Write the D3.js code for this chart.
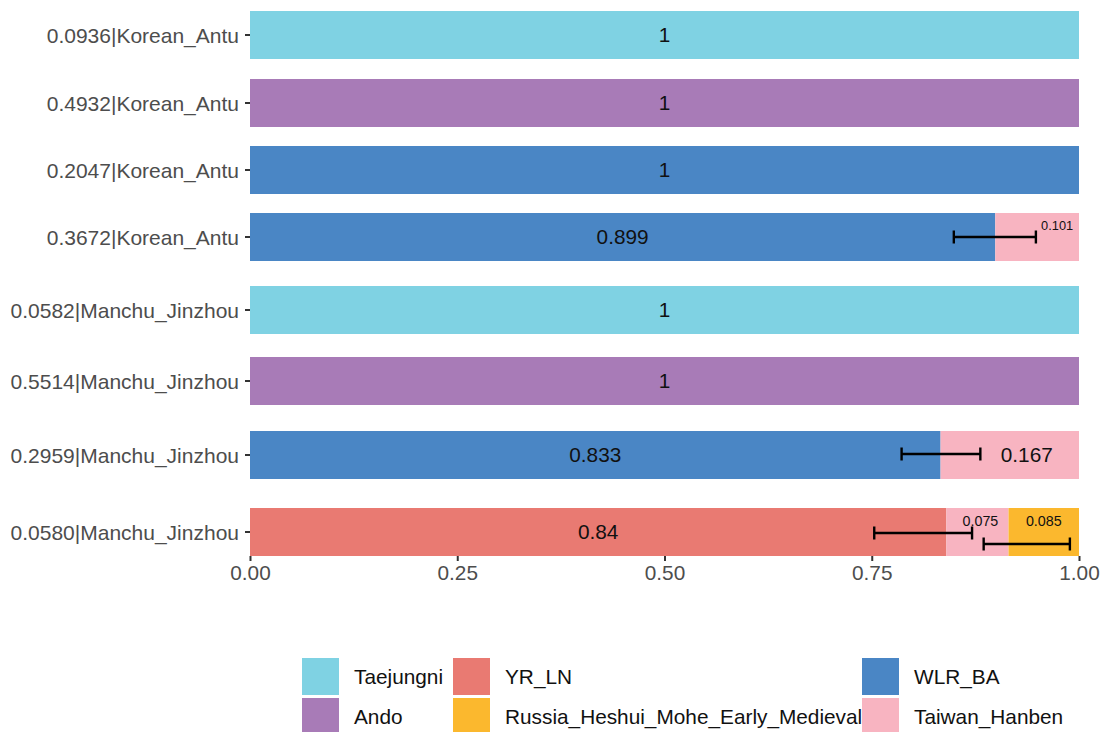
<!DOCTYPE html>
<html>
<head>
<meta charset="utf-8">
<script src="https://cdn.jsdelivr.net/npm/d3@7"></script>
<style>
  html, body { margin: 0; padding: 0; background: #fff; }
  svg { display: block; font-family: "Liberation Sans", Arial, Helvetica, sans-serif; }
</style>
</head>
<body>
<svg id="chart" width="1101" height="732"></svg>
<script>
// Samples (top to bottom) and the ancestry sources used in the model fits
const samples = [
  "0.0936|Korean_Antu",
  "0.4932|Korean_Antu",
  "0.2047|Korean_Antu",
  "0.3672|Korean_Antu",
  "0.0582|Manchu_Jinzhou",
  "0.5514|Manchu_Jinzhou",
  "0.2959|Manchu_Jinzhou",
  "0.0580|Manchu_Jinzhou"
];

// Legend order (filled column by column, two rows)
const legendSources = ["Taejungni", "Ando", "YR_LN", "Russia_Heshui_Mohe_Early_Medieval", "WLR_BA", "Taiwan_Hanben"];
// Stacking order from left to right
const stackSources = ["Taejungni", "Ando", "WLR_BA", "YR_LN", "Taiwan_Hanben", "Russia_Heshui_Mohe_Early_Medieval"];

// Admixture proportions per source, one value per sample
const taejungni = [1, 0, 0, 0, 1, 0, 0, 0];
const ando      = [0, 1, 0, 0, 0, 1, 0, 0];
const wlrBA     = [0, 0, 1, 0.899, 0, 0, 0.833, 0];
const yrLN      = [0, 0, 0, 0, 0, 0, 0, 0.84];
const taiwan    = [0, 0, 0, 0.101, 0, 0, 0.167, 0.075];
const russia    = [0, 0, 0, 0, 0, 0, 0, 0.085];

// Standard-error bars (sample index, lower and upper bound)
const errSample = [3, 6, 7, 7];
const errLow    = [0.849, 0.786, 0.753, 0.885];
const errHigh   = [0.948, 0.881, 0.871, 0.989];

const xTicks = [0, 0.25, 0.5, 0.75, 1];

const colors = {
  "Taejungni": "#7FD2E3",
  "Ando": "#A87BB7",
  "YR_LN": "#E97A72",
  "Russia_Heshui_Mohe_Early_Medieval": "#FBB82E",
  "WLR_BA": "#4A86C5",
  "Taiwan_Hanben": "#F8B4C1"
};

const seriesBySource = {
  "Taejungni": taejungni, "Ando": ando, "WLR_BA": wlrBA,
  "YR_LN": yrLN, "Taiwan_Hanben": taiwan, "Russia_Heshui_Mohe_Early_Medieval": russia
};

// ---- layout ----
const svg = d3.select("#chart");
const plotLeft = 250, plotRight = 1079;
const barH = 48;
const firstTop = 11;
// vertical gaps between consecutive bars (panels are spaced unevenly)
const rowGaps = [0, 20, 19, 19, 25, 23, 26, 29];
const rowTop = [];
rowGaps.forEach((g, i) => rowTop.push(i === 0 ? firstTop : rowTop[i - 1] + barH + g));
const axisY = rowTop[rowTop.length - 1] + barH;

const x = d3.scaleLinear().domain([0, 1]).range([plotLeft, plotRight]);
const yTop = d3.scaleOrdinal().domain(samples).range(rowTop);
const yMid = s => yTop(s) + barH / 2;

// table for the stack layout
const table = samples.map((s, i) => {
  const row = { sample: s };
  stackSources.forEach(k => row[k] = seriesBySource[k][i]);
  return row;
});
const stacked = d3.stack().keys(stackSources)(table);

// bars
const g = svg.append("g");
stacked.forEach(layer => {
  g.selectAll(null)
    .data(layer.filter(d => d[1] - d[0] > 0))
    .join("rect")
    .attr("x", d => x(d[0]))
    .attr("y", d => yTop(d.data.sample))
    .attr("width", d => x(d[1]) - x(d[0]))
    .attr("height", barH)
    .attr("fill", colors[layer.key]);
});

// segment labels; small segments get a smaller font and a nudge
const labelStyle = {
  "3|Taiwan_Hanben": { size: 12.8, dx: 20, dy: -12 },
  "6|Taiwan_Hanben": { size: 20.8, dx: 17, dy: 0 },
  "7|Taiwan_Hanben": { size: 14.3, dx: 3, dy: -11 },
  "7|Russia_Heshui_Mohe_Early_Medieval": { size: 14.3, dx: 0, dy: -11 }
};
const labels = [];
stacked.forEach(layer => {
  layer.forEach((d, i) => {
    const v = d[1] - d[0];
    if (v > 0) {
      const st = labelStyle[i + "|" + layer.key] || { size: 20.8, dx: 0, dy: 0 };
      labels.push({ v, cx: x((d[0] + d[1]) / 2) + st.dx, cy: yMid(samples[i]) + st.dy, size: st.size });
    }
  });
});
g.selectAll("text.seg")
  .data(labels)
  .join("text")
  .attr("class", "seg")
  .attr("x", d => d.cx)
  .attr("y", d => d.cy)
  .attr("dy", "0.36em")
  .attr("text-anchor", "middle")
  .attr("font-size", d => d.size)
  .attr("fill", "#111")
  .text(d => d3.format("")(+d.v.toFixed(3)));

// error bars
const errOffset = [0, -1, 1, 12];
const capH = 13;
const eb = g.selectAll("g.err")
  .data(errSample.map((s, i) => ({ s, lo: errLow[i], hi: errHigh[i], y: yMid(samples[s]) + errOffset[i] })))
  .join("g").attr("class", "err")
  .attr("stroke", "#000").attr("stroke-width", 2.4);
eb.append("line").attr("x1", d => x(d.lo)).attr("x2", d => x(d.hi)).attr("y1", d => d.y).attr("y2", d => d.y);
eb.append("line").attr("x1", d => x(d.lo)).attr("x2", d => x(d.lo)).attr("y1", d => d.y - capH / 2).attr("y2", d => d.y + capH / 2);
eb.append("line").attr("x1", d => x(d.hi)).attr("x2", d => x(d.hi)).attr("y1", d => d.y - capH / 2).attr("y2", d => d.y + capH / 2);

// x axis
const xAxis = svg.append("g").attr("transform", `translate(0,${axisY})`)
  .call(d3.axisBottom(x).tickValues(xTicks).tickFormat(d3.format(".2f")).tickSize(5).tickPadding(4));
xAxis.select(".domain").remove();
xAxis.selectAll("line").attr("stroke", "#333").attr("stroke-width", 2);
xAxis.selectAll("text").attr("font-size", 20.8).attr("fill", "#4D4D4D").attr("font-family", "Liberation Sans, Arial, sans-serif");

// y axis
const yAxisG = svg.append("g");
yAxisG.selectAll("line")
  .data(samples).join("line")
  .attr("x1", plotLeft - 5).attr("x2", plotLeft)
  .attr("y1", d => yMid(d)).attr("y2", d => yMid(d))
  .attr("stroke", "#333").attr("stroke-width", 2);
yAxisG.selectAll("text")
  .data(samples).join("text")
  .attr("x", plotLeft - 11)
  .attr("y", d => yMid(d))
  .attr("dy", "0.36em")
  .attr("text-anchor", "end")
  .attr("font-size", 21)
  .attr("fill", "#4D4D4D")
  .text(d => d);

// legend: 3 columns x 2 rows, filled column-wise
const legendColX = [302, 453, 862];
const legendRowY = [658, 698];
const key = 37;
const lg = svg.append("g");
legendSources.forEach((src, i) => {
  const col = Math.floor(i / 2), row = i % 2;
  const gx = legendColX[col], gy = legendRowY[row];
  lg.append("rect").attr("x", gx).attr("y", gy).attr("width", key).attr("height", key).attr("fill", colors[src]);
  lg.append("text").attr("x", gx + key + 15).attr("y", gy + key / 2).attr("dy", "0.36em")
    .attr("font-size", 20.8).attr("fill", "#111").text(src);
});
</script>
</body>
</html>
